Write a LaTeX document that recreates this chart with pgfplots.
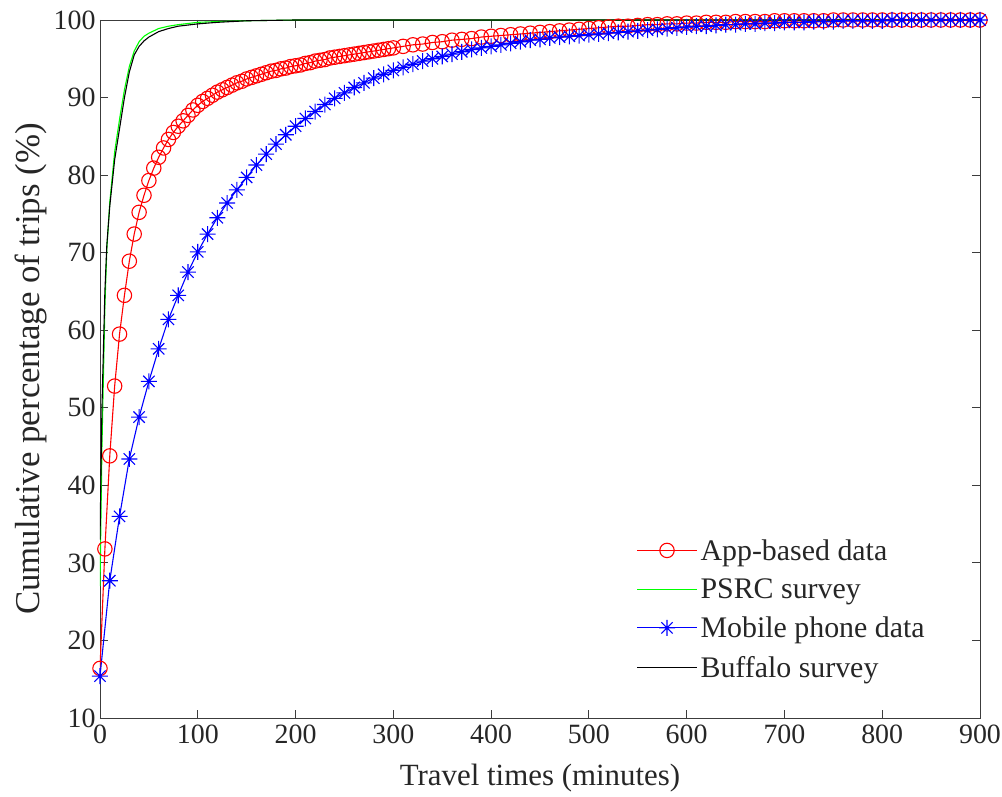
\documentclass[border=0pt]{standalone}
\usepackage{pgfplots}
\pgfplotsset{compat=1.18}
\usepackage{fontspec}
\setmainfont{Liberation Serif}
\definecolor{txt}{RGB}{38,38,38}
\pgfdeclareplotmark{ast8}{%
  \pgfpathmoveto{\pgfqpoint{0pt}{\pgfplotmarksize}}\pgfpathlineto{\pgfqpoint{0pt}{-\pgfplotmarksize}}%
  \pgfpathmoveto{\pgfqpoint{\pgfplotmarksize}{0pt}}\pgfpathlineto{\pgfqpoint{-\pgfplotmarksize}{0pt}}%
  \pgfpathmoveto{\pgfqpoint{0.707\pgfplotmarksize}{0.707\pgfplotmarksize}}\pgfpathlineto{\pgfqpoint{-0.707\pgfplotmarksize}{-0.707\pgfplotmarksize}}%
  \pgfpathmoveto{\pgfqpoint{0.707\pgfplotmarksize}{-0.707\pgfplotmarksize}}\pgfpathlineto{\pgfqpoint{-0.707\pgfplotmarksize}{0.707\pgfplotmarksize}}%
  \pgfusepathqstroke}
\begin{document}
\begin{tikzpicture}
\useasboundingbox (-100bp,-79bp) rectangle (902bp,718bp);
\begin{axis}[
  scale only axis, width=880bp, height=698bp,
  xmin=0, xmax=900, ymin=10, ymax=100,
  xtick={0,100,...,900}, ytick={10,20,...,100},
  xticklabel={\rmfamily\pgfmathprintnumber[assume math mode=true]{\tick}},
  yticklabel={\rmfamily\pgfmathprintnumber[assume math mode=true]{\tick}},
  major tick length=8bp,
  axis line style={line width=0.9bp, color=txt!90},
  every tick/.style={line width=0.9bp, color=txt!90},
  tick label style={font=\rmfamily\fontsize{28}{30}\selectfont, text=txt},
  xticklabel style={yshift=-3bp},
  yticklabel style={xshift=-1bp},
  xlabel={Travel times (minutes)},
  ylabel={Cumulative percentage of trips (\%)},
  xlabel style={font=\fontsize{31}{33}\selectfont, text=txt, yshift=-14bp},
  ylabel style={font=\fontsize{35}{37}\selectfont, text=txt, yshift=0bp},
  legend style={at={(0.606,0.262)}, anchor=north west, draw=none, fill=none,
    font=\fontsize{30}{32}\selectfont, text=txt, row sep=13bp,
    nodes={inner xsep=3bp}},
  legend cell align=left,
  legend image code/.code={\draw[mark repeat=2,mark phase=2,#1] plot coordinates {(0bp,0bp) (30bp,0bp) (60bp,0bp)};},
]
\addplot[red, line width=1.1bp, mark=o, mark size=7.2bp, mark options={line width=1.1bp}] coordinates {
(0,16.4)(5,31.8)(10,43.8)(15,52.8)(20,59.5)(25,64.5)(30,68.9)(35,72.4)(40,75.2)(45,77.4)
(50,79.3)(55,80.9)(60,82.3)(65,83.5)(70,84.6)(75,85.5)(80,86.3)(85,87.0)(90,87.7)(95,88.4)
(100,89.0)(105,89.5)(110,89.9)(115,90.3)(120,90.7)(125,91.0)(130,91.3)(135,91.6)(140,91.9)(145,92.1)
(150,92.4)(155,92.6)(160,92.8)(165,93.0)(170,93.2)(175,93.4)(180,93.5)(185,93.7)(190,93.8)(195,94.0)
(200,94.1)(205,94.2)(210,94.4)(215,94.5)(220,94.7)(225,94.8)(230,94.9)(235,95.1)(240,95.2)(245,95.3)
(250,95.4)(255,95.5)(260,95.6)(265,95.7)(270,95.8)(275,95.9)(280,96.0)(285,96.1)(290,96.2)(295,96.3)
(300,96.4)(310,96.6)(320,96.8)(330,96.9)(340,97.1)(350,97.2)(360,97.4)(370,97.5)(380,97.6)(390,97.8)
(400,97.9)(410,98.0)(420,98.1)(430,98.2)(440,98.3)(450,98.4)(460,98.5)(470,98.6)(480,98.7)(490,98.8)
(500,98.9)(510,99.0)(520,99.1)(530,99.2)(540,99.2)(550,99.3)(560,99.4)(570,99.4)(580,99.5)(590,99.5)
(600,99.6)(610,99.6)(620,99.7)(630,99.7)(640,99.7)(650,99.8)(660,99.8)(670,99.8)(680,99.8)(690,99.9)
(700,99.9)(710,99.9)(720,99.9)(730,99.9)(740,99.9)(750,100)(760,100)(770,100)(780,100)(790,100)
(800,100)(810,100)(820,100)(830,100)(840,100)(850,100)(860,100)(870,100)(880,100)(890,100)(900,100)
};
\addlegendentry{App-based data}
\addplot[color={rgb,255:red,0;green,255;blue,0}, line width=1.1bp] coordinates {
(0,27)(2,45)(5,63)(7,70.5)(10,76.5)(15,83)(20,87.2)(25,91)(30,94)(35,96)(40,97.2)(45,97.9)
(50,98.3)(60,98.9)(70,99.2)(80,99.4)(100,99.7)(120,99.8)(150,99.9)(200,100)(300,100)(500,100)(700,100)(900,100)
};
\addlegendentry{PSRC survey}
\addplot[blue, line width=1.1bp, mark=ast8, mark size=8bp, mark options={line width=1.1bp}] coordinates {
(0,15.4)(10,27.7)(20,36.0)(30,43.4)(40,48.8)(50,53.4)(60,57.6)(70,61.4)(80,64.5)(90,67.5)
(100,70.1)(110,72.4)(120,74.5)(130,76.4)(140,78.1)(150,79.7)(160,81.3)(170,82.7)(180,84.0)(190,85.2)
(200,86.3)(210,87.3)(220,88.2)(230,89.1)(240,89.9)(250,90.6)(260,91.3)(270,91.9)(280,92.5)(290,93.0)
(300,93.5)(310,93.9)(320,94.3)(330,94.7)(340,95.0)(350,95.3)(360,95.6)(370,95.9)(380,96.2)(390,96.4)
(400,96.6)(410,96.8)(420,97.0)(430,97.2)(440,97.4)(450,97.5)(460,97.7)(470,97.8)(480,97.9)(490,98.0)
(500,98.1)(510,98.2)(520,98.3)(530,98.4)(540,98.5)(550,98.6)(560,98.7)(570,98.8)(580,98.9)(590,99.0)
(600,99.1)(610,99.2)(620,99.2)(630,99.3)(640,99.4)(650,99.4)(660,99.5)(670,99.5)(680,99.6)(690,99.6)
(700,99.7)(710,99.7)(720,99.7)(730,99.8)(740,99.8)(750,99.8)(760,99.9)(770,99.9)(780,99.9)(790,99.9)
(800,99.9)(810,100)(820,100)(830,100)(840,100)(850,100)(860,100)(870,100)(880,100)(890,100)(900,100)
};
\addlegendentry{Mobile phone data}
\addplot[black, line width=1.1bp] coordinates {
(0,33)(2,50)(5,65)(7,71)(10,76)(15,82)(20,86)(25,90)(30,93.3)(35,95.5)(40,96.6)(45,97.3)
(50,97.8)(60,98.5)(70,98.9)(80,99.2)(100,99.5)(120,99.7)(150,99.9)(200,100)(300,100)(500,100)(700,100)(900,100)
};
\addlegendentry{Buffalo survey}
\end{axis}
\end{tikzpicture}
\end{document}
